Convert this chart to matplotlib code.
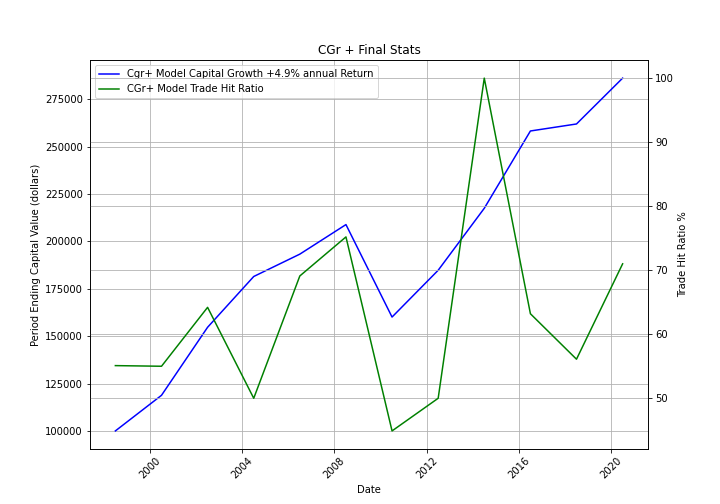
import datetime as dt
import matplotlib
matplotlib.use("Agg")
import matplotlib.pyplot as plt
import matplotlib.dates as mdates

years = [1998, 2000, 2002, 2004, 2006, 2008, 2010, 2012, 2014, 2016, 2018, 2020]
capital = [100000, 118800, 154700, 181500, 193300, 208900, 160100, 184800,
           217500, 258300, 262000, 286200]
hit_ratio = [55.1, 55.0, 64.2, 50.0, 69.1, 75.2, 44.9, 50.0, 100.0, 63.2, 56.1, 71.0]

dates = [dt.date(y, 7, 1) for y in years]

fig, ax = plt.subplots(figsize=(10, 7), dpi=72)
l1, = ax.plot(dates, capital, color="blue", label="Cgr+ Model Capital Growth +4.9% annual Return")
ax.set_ylabel("Period Ending Capital Value (dollars)")
ax.set_xlabel("Date")
ax.set_title("CGr + Final Stats")
ax.grid(True)
ax.xaxis.set_major_locator(mdates.YearLocator(4))
ax.xaxis.set_major_formatter(mdates.DateFormatter("%Y"))
for t in ax.get_xticklabels():
    t.set_rotation(45)

ax2 = ax.twinx()
l2, = ax2.plot(dates, hit_ratio, color="green", label="CGr+ Model Trade Hit Ratio")
ax2.set_ylabel("Trade Hit Ratio %")
ax2.grid(True)

ax.legend(handles=[l1, l2], loc="upper left")
fig.savefig("out.png", dpi=72)
